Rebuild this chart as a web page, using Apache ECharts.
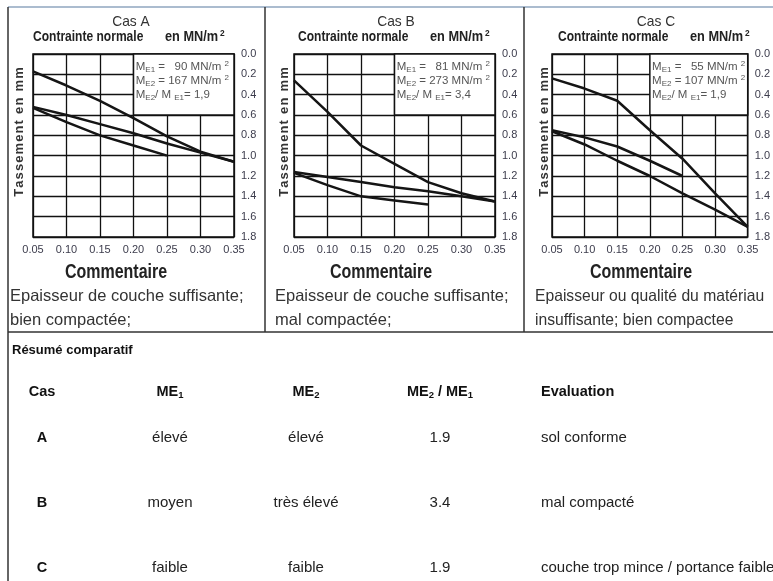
<!DOCTYPE html>
<html>
<head>
<meta charset="utf-8">
<script src="https://cdn.jsdelivr.net/npm/echarts@6/dist/echarts.min.js"></script>
<style>
  html, body { margin: 0; padding: 0; background: #fff; }
  #main { width: 773px; height: 581px; }
</style>
</head>
<body>
<div id="main"></div>
<script>
// contrainte normale (MN/m2) -> tassement (mm)
const xVals = [0.05, 0.10, 0.15, 0.20, 0.25, 0.30, 0.35];

const casA1 = [0.17, 0.31, 0.46, 0.63, 0.81, 0.96, 1.06];
const casA2 = [0.52, 0.60, 0.69, 0.78, 0.88, 0.97, 1.06];
const casA3 = [0.53, 0.67, 0.80, 0.90, 1.00];

const casB1 = [0.26, 0.57, 0.90, 1.08, 1.26, 1.37, 1.45];
const casB2 = [1.16, 1.21, 1.26, 1.31, 1.35, 1.40, 1.45];
const casB3 = [1.17, 1.29, 1.40, 1.44, 1.48];

const casC1 = [0.24, 0.34, 0.46, 0.75, 1.03, 1.37, 1.70];
const casC2 = [0.75, 0.82, 0.91, 1.05, 1.20];
const casC3 = [0.76, 0.89, 1.05, 1.20, 1.37, 1.53, 1.70];

const casTitres = ["Cas A", "Cas B", "Cas C"];
const me1Vals = ["90", "81", "55"];
const me2Vals = ["167", "273", "107"];
const ratioVals = ["1,9", "3,4", "1,9"];
const commentaires = [
  "Epaisseur de couche suffisante;\nbien compactée;",
  "Epaisseur de couche suffisante;\nmal compactée;",
  "Epaisseur ou qualité du matériau\ninsuffisante; bien compactee"
];

// tableau résumé
const tabCas = ["A", "B", "C"];
const tabME1 = ["élevé", "moyen", "faible"];
const tabME2 = ["élevé", "très élevé", "faible"];
const tabRatio = ["1.9", "3.4", "1.9"];
const tabEval = ["sol conforme", "mal compacté", "couche trop mince / portance faible"];

let chart = echarts.init(document.getElementById("main"));

const sans = "'Liberation Sans', Arial, sans-serif";

const panels = [
  { left: 33, off: 0, curves: [casA1, casA2, casA3], txtScale: 1 },
  { left: 294, off: 265, curves: [casB1, casB2, casB3], txtScale: 1 },
  { left: 552, off: 525, curves: [casC1, casC2, casC3], txtScale: 0.95 }
];

let grids = [], xAxes = [], yAxes = [], series = [], graphics = [];

panels.forEach((p, k) => {
  grids.push({ left: p.left, top: 54, width: 201, height: 183,
    show: true, borderColor: "#111", borderWidth: 1.5, backgroundColor: "#fff" });
  xAxes.push({
    type: "value", gridIndex: k, min: 0.05, max: 0.35, interval: 0.05,
    axisLine: { show: false }, axisTick: { show: false },
    splitLine: { show: true, lineStyle: { color: "#111", width: 1.3 } },
    axisLabel: { margin: 7, fontSize: 11, color: "#3c3c4c", fontFamily: sans,
      formatter: v => v.toFixed(2) }
  });
  yAxes.push({
    type: "value", gridIndex: k, min: 0, max: 1.8, interval: 0.2, inverse: true,
    position: "right",
    axisLine: { show: false }, axisTick: { show: false },
    splitLine: { show: true, lineStyle: { color: "#111", width: 1.3 } },
    axisLabel: { margin: 7, fontSize: 11, color: "#3c3c4c", fontFamily: sans,
      formatter: v => v.toFixed(1) }
  });
  p.curves.forEach((ys, j) => {
    let s = {
      type: "line", xAxisIndex: k, yAxisIndex: k, symbol: "none", silent: true,
      data: ys.map((y, i) => [xVals[i], y]),
      lineStyle: { color: "#151515", width: 2.5 }, z: 3
    };
    if (j === 0) {
      // encadré avec les modules
      s.markArea = {
        silent: true,
        itemStyle: { color: "#fff", borderColor: "#111", borderWidth: 1.5 },
        label: {
          show: true, position: "insideTopLeft", distance: 3, padding: [4, 0, 0, 0],
          color: "#555", fontFamily: sans, lineHeight: 14,
          formatter:
            "{m|M}{s|E1}{m| =   " + me1Vals[k] + " MN/m }{p|2}\n" +
            "{m|M}{s|E2}{m| = " + me2Vals[k] + " MN/m }{p|2}\n" +
            "{m|M}{s|E2}{m|/ M }{s|E1}{m|= " + ratioVals[k] + "}",
          rich: {
            m: { fontSize: 11.5, lineHeight: 14, color: "#555", fontFamily: sans },
            s: { fontSize: 8, lineHeight: 10, verticalAlign: "bottom", color: "#555", fontFamily: sans },
            p: { fontSize: 8, lineHeight: 10, verticalAlign: "top", color: "#555", fontFamily: sans }
          }
        },
        data: [[{ xAxis: 0.2, yAxis: 0 }, { xAxis: 0.35, yAxis: 0.6 }]]
      };
    }
    series.push(s);
  });

  const o = p.off;
  graphics.push(
    { type: "text", x: o + 131, y: 22, scaleX: 0.92,
      style: { text: casTitres[k], font: "15px " + sans, fill: "#333", textAlign: "center", textVerticalAlign: "middle" } },
    { type: "text", x: o + 33, y: 37, scaleX: 0.83,
      style: { text: "Contrainte normale", font: "bold 14.5px " + sans, fill: "#222", textVerticalAlign: "middle" } },
    { type: "text", x: o + 165, y: 37, scaleX: 0.88,
      style: { text: "{b|en MN/m}{p|2}", textVerticalAlign: "middle",
        rich: { b: { font: "bold 14.5px " + sans, fill: "#222", lineHeight: 17 },
                p: { font: "bold 9.5px " + sans, fill: "#222", lineHeight: 17, verticalAlign: "top", padding: [0, 0, 0, 2] } } } },
    { type: "text", x: o + 19, y: 132, rotation: Math.PI / 2,
      style: { text: "T\u200Aa\u200As\u200As\u200Ae\u200Am\u200Ae\u200An\u200At \u2009e\u200An \u2009m\u200Am", font: "bold 13px " + sans, fill: "#333", textAlign: "center", textVerticalAlign: "middle" } },
    { type: "text", x: o + 116, y: 272, scaleX: 0.8,
      style: { text: "Commentaire", font: "bold 20px " + sans, fill: "#222", textAlign: "center", textVerticalAlign: "middle" } },
    { type: "text", x: o + 10, y: 284, scaleX: p.txtScale,
      style: { text: commentaires[k], font: "16.5px " + sans, fill: "#333", lineHeight: 24, textVerticalAlign: "top" } }
  );
});

// cadres
const lineStyle = { stroke: "#333", lineWidth: 1.5 };
graphics.push(
  { type: "line", shape: { x1: 8, y1: 7, x2: 773, y2: 7 }, style: { stroke: "#8fa6bf", lineWidth: 1.5 } },
  { type: "line", shape: { x1: 8, y1: 7, x2: 8, y2: 581 }, style: lineStyle },
  { type: "line", shape: { x1: 265, y1: 7, x2: 265, y2: 332 }, style: lineStyle },
  { type: "line", shape: { x1: 524, y1: 7, x2: 524, y2: 332 }, style: lineStyle },
  { type: "line", shape: { x1: 8, y1: 332, x2: 773, y2: 332 }, style: lineStyle }
);

// tableau
const tabFont = "15px " + sans;
const tabBold = "bold 14.5px " + sans;
const colX = [42, 170, 306, 440];
const subRich = {
  b: { font: tabBold, fill: "#111", lineHeight: 16 },
  s: { font: "bold 9.5px " + sans, fill: "#111", lineHeight: 10, verticalAlign: "bottom" }
};
graphics.push(
  { type: "text", x: 12, y: 350, style: { text: "Résumé comparatif", font: "bold 13px " + sans, fill: "#111", textVerticalAlign: "middle" } },
  { type: "text", x: colX[0], y: 392, style: { text: "Cas", font: tabBold, fill: "#111", textAlign: "center", textVerticalAlign: "middle" } },
  { type: "text", x: colX[1], y: 392, style: { text: "{b|ME}{s|1}", textAlign: "center", textVerticalAlign: "middle", rich: subRich } },
  { type: "text", x: colX[2], y: 392, style: { text: "{b|ME}{s|2}", textAlign: "center", textVerticalAlign: "middle", rich: subRich } },
  { type: "text", x: colX[3], y: 392, style: { text: "{b|ME}{s|2}{b| / ME}{s|1}", textAlign: "center", textVerticalAlign: "middle", rich: subRich } },
  { type: "text", x: 541, y: 392, style: { text: "Evaluation", font: tabBold, fill: "#111", textVerticalAlign: "middle" } }
);
const rowY = [438, 503, 568];
tabCas.forEach((c, i) => {
  const y = rowY[i];
  graphics.push(
    { type: "text", x: colX[0], y: y, style: { text: c, font: tabBold, fill: "#111", textAlign: "center", textVerticalAlign: "middle" } },
    { type: "text", x: colX[1], y: y, style: { text: tabME1[i], font: tabFont, fill: "#222", textAlign: "center", textVerticalAlign: "middle" } },
    { type: "text", x: colX[2], y: y, style: { text: tabME2[i], font: tabFont, fill: "#222", textAlign: "center", textVerticalAlign: "middle" } },
    { type: "text", x: colX[3], y: y, style: { text: tabRatio[i], font: tabFont, fill: "#222", textAlign: "center", textVerticalAlign: "middle" } },
    { type: "text", x: 541, y: y, style: { text: tabEval[i], font: tabFont, fill: "#222", textVerticalAlign: "middle" } }
  );
});

let option = {
  animation: false,
  backgroundColor: "#fff",
  grid: grids,
  xAxis: xAxes,
  yAxis: yAxes,
  series: series,
  graphic: graphics
};
chart.setOption(option);
</script>
</body>
</html>
